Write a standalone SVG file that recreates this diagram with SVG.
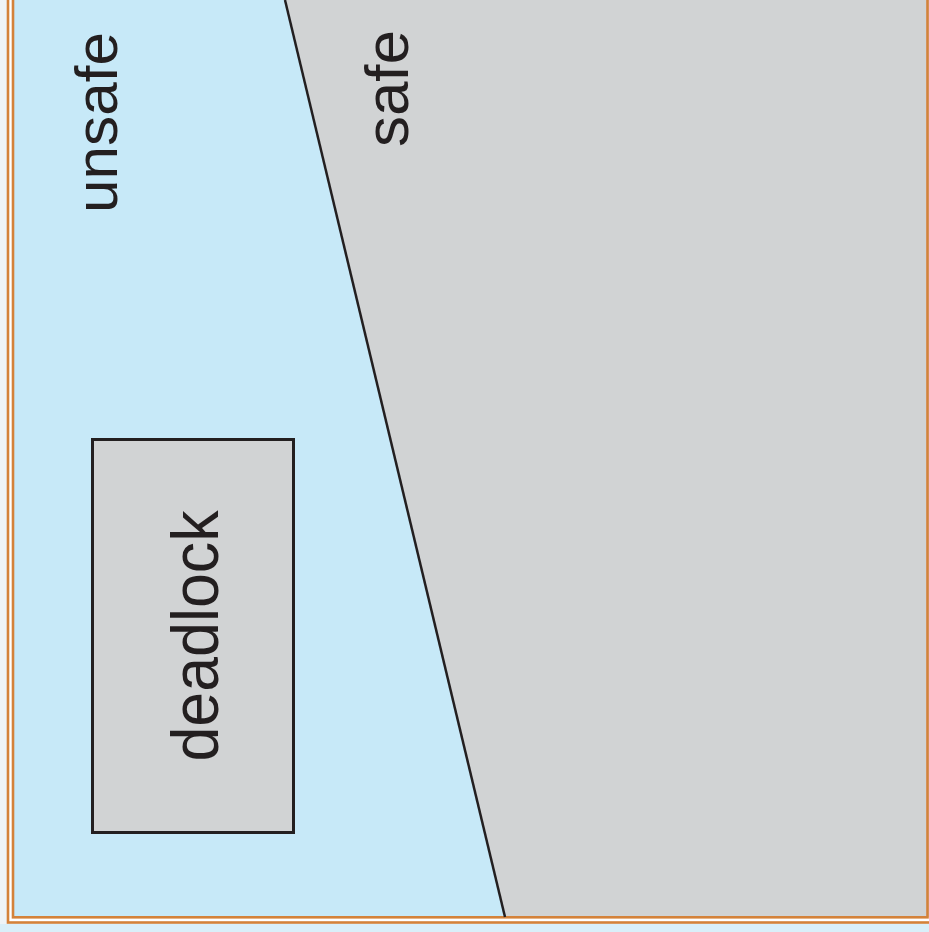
<svg xmlns="http://www.w3.org/2000/svg" width="929" height="932" viewBox="0 0 929 932">
<style>
.frame{fill:none;stroke:#d4823a;stroke-width:2.6}
.lbl{font-family:"Liberation Sans",Arial,sans-serif;fill:#231f20}
</style>
<g id="background">
<rect x="0" y="0" width="929" height="932" fill="#eff4f7"/>
<rect x="0" y="924" width="929" height="8" fill="#d9eff9"/>
<rect x="8" y="-10" width="930" height="932.5" fill="#ffffff"/>
</g>
<g id="regions">
<polygon id="unsafe-region" points="13,-5 285,-5 505,917 13,917" fill="#c7e9f8"/>
<polygon id="safe-region" points="285,-5 935,-5 935,917 505,917" fill="#d1d3d4"/>
</g>
<g id="frames">
<rect class="frame" x="8" y="-10" width="930" height="932.5"/>
<rect class="frame" x="13" y="-10" width="914.5" height="927.3"/>
</g>
<g id="connectors">
<line x1="285" y1="0" x2="505" y2="917" stroke="#231f20" stroke-width="2.5"/>
</g>
<g id="deadlock">
<rect x="92.5" y="439.5" width="201" height="393" fill="#d1d3d4" stroke="#231f20" stroke-width="3"/>
<text class="lbl" transform="translate(218,636) rotate(-90)" text-anchor="middle" font-size="67" textLength="251" lengthAdjust="spacingAndGlyphs">deadlock</text>
</g>
<g id="unsafe">
<text class="lbl" transform="translate(117,122.5) rotate(-90)" text-anchor="middle" font-size="60" textLength="181" lengthAdjust="spacingAndGlyphs">unsafe</text>
</g>
<g id="safe">
<text class="lbl" transform="translate(408,88.5) rotate(-90)" text-anchor="middle" font-size="61" textLength="117" lengthAdjust="spacingAndGlyphs">safe</text>
</g>
</svg>
